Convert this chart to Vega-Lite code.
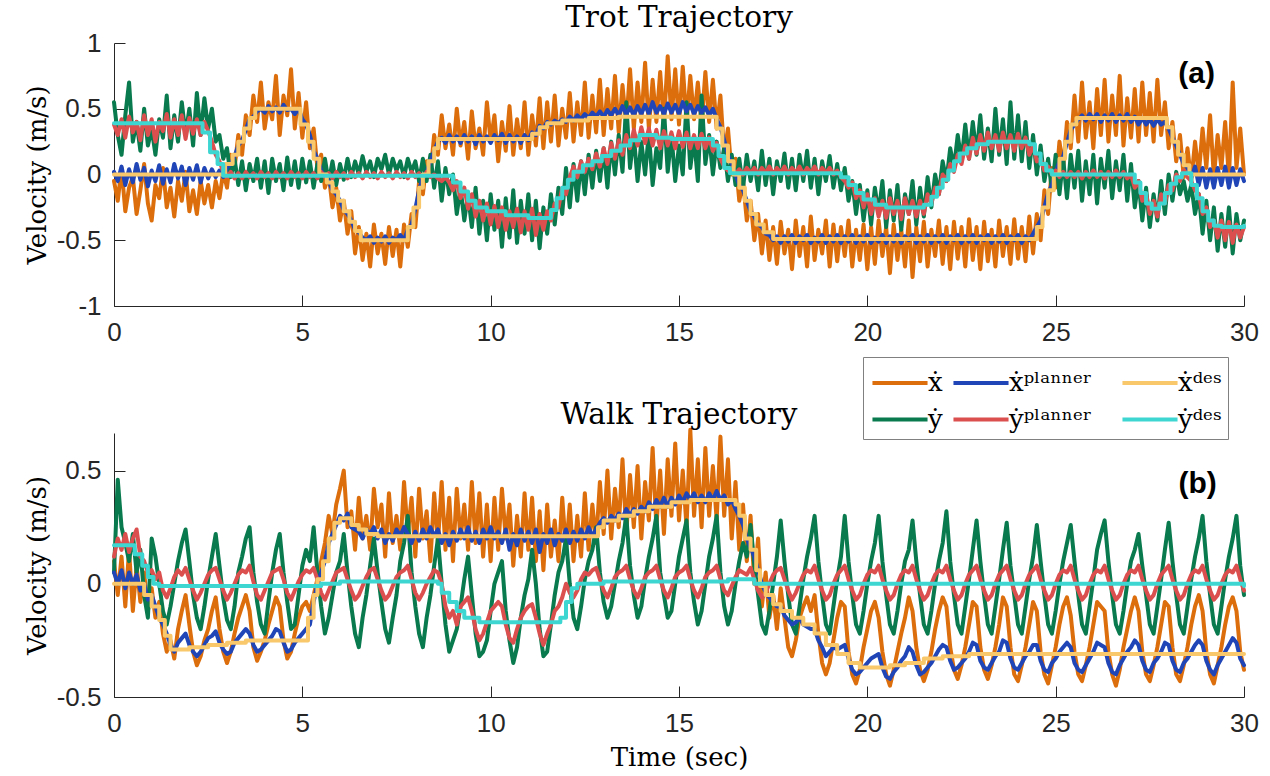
{
"$schema":"https://vega.github.io/schema/vega-lite/v6.json",
"background":"white",
"padding":{"left":24,"top":2,"right":5,"bottom":5},
"bounds":"flush",
"spacing":127,
"config":{
"font":"DejaVu Serif",
"view":{"stroke":null},
"style":{"guide-title":{"font":"DejaVu Serif","fontSize":26,"fontWeight":"normal"},"guide-label":{"font":"Liberation Sans","fontSize":26}},
"axis":{"grid":false,"domainColor":"#262626","tickColor":"#262626","tickWidth":1,"labelColor":"#262626","labelFlush":false,"labelOverlap":false,"titleFont":"DejaVu Serif","labelFont":"Liberation Sans"},
"line":{"strokeWidth":4,"strokeJoin":"round","strokeCap":"round"},
"legend":{"orient":"none","legendX":749,"legendY":314,"columns":3,"symbolType":"M-1.53,0H1.53","symbolSize":1296,"symbolStrokeWidth":4,"symbolOffset":11,"labelOffset":8,"labelFont":"DejaVu Serif","labelFontSize":26,"labelColor":"#000000","strokeColor":"#808080","fillColor":"#ffffff","padding":6,"rowPadding":3.6,"columnPadding":7}
},
"datasets":{
"trot":[
{"t":0,"x":-0.05,"y":0.55,"xp":0.02,"yp":0.38},
{"t":0.1,"x":-0.2,"y":0.3,"xp":-0.05,"yp":0.3},
{"t":0.2,"x":0.05,"y":0.15,"xp":0.06,"yp":0.42},
{"t":0.3,"x":-0.28,"y":0.45,"xp":-0.08,"yp":0.28},
{"t":0.4,"x":-0.1,"y":0.7,"xp":0.04,"yp":0.44},
{"t":0.5,"x":-0.02,"y":0.25,"xp":-0.06,"yp":0.32},
{"t":0.6,"x":-0.3,"y":0.4,"xp":0.08,"yp":0.4},
{"t":0.7,"x":-0.12,"y":0.18,"xp":-0.04,"yp":0.26},
{"t":0.8,"x":0.08,"y":0.5,"xp":0.05,"yp":0.45},
{"t":0.9,"x":-0.22,"y":0.22,"xp":-0.09,"yp":0.3},
{"t":1,"x":-0.35,"y":0.35,"xp":0.03,"yp":0.42},
{"t":1.1,"x":-0.08,"y":0.15,"xp":-0.05,"yp":0.25},
{"t":1.2,"x":-0.18,"y":0.42,"xp":0.07,"yp":0.4},
{"t":1.3,"x":0.05,"y":0.28,"xp":-0.07,"yp":0.33},
{"t":1.4,"x":-0.25,"y":0.6,"xp":0.04,"yp":0.46},
{"t":1.5,"x":-0.1,"y":0.2,"xp":-0.06,"yp":0.28},
{"t":1.6,"x":-0.32,"y":0.45,"xp":0.08,"yp":0.42},
{"t":1.7,"x":-0.05,"y":0.25,"xp":-0.03,"yp":0.3},
{"t":1.8,"x":-0.2,"y":0.55,"xp":0.06,"yp":0.45},
{"t":1.9,"x":0.02,"y":0.3,"xp":-0.08,"yp":0.27},
{"t":2,"x":-0.28,"y":0.5,"xp":0.05,"yp":0.43},
{"t":2.1,"x":-0.12,"y":0.22,"xp":-0.04,"yp":0.31},
{"t":2.2,"x":-0.3,"y":0.62,"xp":0.07,"yp":0.42},
{"t":2.3,"x":-0.05,"y":0.3,"xp":-0.06,"yp":0.3},
{"t":2.4,"x":-0.22,"y":0.58,"xp":0.05,"yp":0.4},
{"t":2.5,"x":-0.08,"y":0.35,"xp":-0.03,"yp":0.33},
{"t":2.6,"x":-0.25,"y":0.5,"xp":0.04,"yp":0.25},
{"t":2.7,"x":-0.05,"y":0.25,"xp":-0.02,"yp":0.15},
{"t":2.8,"x":-0.18,"y":0.3,"xp":0.03,"yp":0.1},
{"t":2.9,"x":0.02,"y":0.12,"xp":-0.02,"yp":0.02},
{"t":3,"x":-0.1,"y":0.2,"xp":0.05,"yp":-0.02},
{"t":3.1,"x":0.15,"y":-0.02,"xp":0.08,"yp":0.02},
{"t":3.2,"x":0.05,"y":0.12,"xp":0.14,"yp":-0.03},
{"t":3.3,"x":0.3,"y":-0.08,"xp":0.22,"yp":0.01},
{"t":3.4,"x":0.15,"y":0.1,"xp":0.26,"yp":-0.03},
{"t":3.5,"x":0.45,"y":-0.12,"xp":0.34,"yp":0.02},
{"t":3.6,"x":0.3,"y":0.08,"xp":0.42,"yp":-0.02},
{"t":3.7,"x":0.6,"y":-0.05,"xp":0.44,"yp":0.01},
{"t":3.8,"x":0.4,"y":0.12,"xp":0.48,"yp":-0.03},
{"t":3.9,"x":0.7,"y":-0.1,"xp":0.5,"yp":0.02},
{"t":4,"x":0.35,"y":0.1,"xp":0.47,"yp":-0.02},
{"t":4.1,"x":0.55,"y":-0.14,"xp":0.52,"yp":0.01},
{"t":4.2,"x":0.42,"y":0.12,"xp":0.48,"yp":-0.03},
{"t":4.3,"x":0.75,"y":-0.05,"xp":0.51,"yp":0.02},
{"t":4.4,"x":0.3,"y":0.08,"xp":0.47,"yp":-0.02},
{"t":4.5,"x":0.6,"y":-0.12,"xp":0.53,"yp":0.01},
{"t":4.6,"x":0.45,"y":0.13,"xp":0.49,"yp":-0.03},
{"t":4.7,"x":0.8,"y":-0.08,"xp":0.5,"yp":0.02},
{"t":4.8,"x":0.35,"y":0.1,"xp":0.46,"yp":-0.02},
{"t":4.9,"x":0.62,"y":-0.1,"xp":0.5,"yp":0.01},
{"t":5,"x":0.28,"y":0.12,"xp":0.42,"yp":-0.03},
{"t":5.1,"x":0.55,"y":-0.06,"xp":0.38,"yp":0.02},
{"t":5.2,"x":0.2,"y":0.1,"xp":0.3,"yp":-0.02},
{"t":5.3,"x":0.35,"y":-0.1,"xp":0.18,"yp":0.01},
{"t":5.4,"x":0.05,"y":0.08,"xp":0.12,"yp":-0.03},
{"t":5.5,"x":0.15,"y":-0.05,"xp":0.03,"yp":0.02},
{"t":5.6,"x":-0.1,"y":0.12,"xp":-0.01,"yp":-0.02},
{"t":5.7,"x":0,"y":-0.06,"xp":-0.05,"yp":0.01},
{"t":5.8,"x":-0.25,"y":0.1,"xp":-0.12,"yp":-0.03},
{"t":5.9,"x":-0.1,"y":-0.08,"xp":-0.15,"yp":0.02},
{"t":6,"x":-0.35,"y":0.08,"xp":-0.2,"yp":-0.02},
{"t":6.1,"x":-0.2,"y":-0.04,"xp":-0.27,"yp":0.01},
{"t":6.2,"x":-0.45,"y":0.12,"xp":-0.3,"yp":-0.03},
{"t":6.3,"x":-0.28,"y":-0.02,"xp":-0.35,"yp":0.02},
{"t":6.4,"x":-0.6,"y":0.1,"xp":-0.42,"yp":-0.02},
{"t":6.5,"x":-0.4,"y":0,"xp":-0.44,"yp":0.01},
{"t":6.6,"x":-0.65,"y":0.14,"xp":-0.48,"yp":-0.03},
{"t":6.7,"x":-0.45,"y":0.02,"xp":-0.5,"yp":0.02},
{"t":6.8,"x":-0.7,"y":0.1,"xp":-0.47,"yp":-0.02},
{"t":6.9,"x":-0.38,"y":-0.02,"xp":-0.52,"yp":0.01},
{"t":7,"x":-0.6,"y":0.12,"xp":-0.48,"yp":-0.03},
{"t":7.1,"x":-0.45,"y":0.04,"xp":-0.51,"yp":0.02},
{"t":7.2,"x":-0.68,"y":0.15,"xp":-0.47,"yp":-0.02},
{"t":7.3,"x":-0.4,"y":0,"xp":-0.52,"yp":0.01},
{"t":7.4,"x":-0.62,"y":0.12,"xp":-0.48,"yp":-0.03},
{"t":7.5,"x":-0.42,"y":0.03,"xp":-0.5,"yp":0.02},
{"t":7.6,"x":-0.7,"y":0.1,"xp":-0.46,"yp":-0.02},
{"t":7.7,"x":-0.38,"y":-0.02,"xp":-0.5,"yp":0.01},
{"t":7.8,"x":-0.55,"y":0.12,"xp":-0.42,"yp":-0.03},
{"t":7.9,"x":-0.3,"y":0.02,"xp":-0.38,"yp":0.02},
{"t":8,"x":-0.4,"y":0.1,"xp":-0.26,"yp":-0.02},
{"t":8.1,"x":-0.05,"y":-0.05,"xp":-0.12,"yp":0.01},
{"t":8.2,"x":-0.15,"y":0.12,"xp":-0.02,"yp":-0.03},
{"t":8.3,"x":0.1,"y":-0.05,"xp":0.02,"yp":0.02},
{"t":8.4,"x":0,"y":0.15,"xp":0.1,"yp":-0.02},
{"t":8.5,"x":0.3,"y":-0.1,"xp":0.18,"yp":0},
{"t":8.6,"x":0.15,"y":0.1,"xp":0.25,"yp":-0.03},
{"t":8.7,"x":0.45,"y":-0.2,"xp":0.28,"yp":-0.05},
{"t":8.8,"x":0.2,"y":0.05,"xp":0.24,"yp":-0.02},
{"t":8.9,"x":0.38,"y":-0.15,"xp":0.3,"yp":-0.06},
{"t":9,"x":0.15,"y":0,"xp":0.25,"yp":-0.12},
{"t":9.1,"x":0.5,"y":-0.3,"xp":0.29,"yp":-0.05},
{"t":9.2,"x":0.22,"y":-0.1,"xp":0.24,"yp":-0.18},
{"t":9.3,"x":0.4,"y":-0.35,"xp":0.3,"yp":-0.1},
{"t":9.4,"x":0.12,"y":-0.15,"xp":0.25,"yp":-0.26},
{"t":9.5,"x":0.48,"y":-0.4,"xp":0.29,"yp":-0.15},
{"t":9.6,"x":0.2,"y":-0.1,"xp":0.23,"yp":-0.32},
{"t":9.7,"x":0.35,"y":-0.45,"xp":0.3,"yp":-0.2},
{"t":9.8,"x":0.15,"y":-0.2,"xp":0.25,"yp":-0.35},
{"t":9.9,"x":0.55,"y":-0.5,"xp":0.29,"yp":-0.22},
{"t":10,"x":0.25,"y":-0.15,"xp":0.24,"yp":-0.38},
{"t":10.1,"x":0.45,"y":-0.42,"xp":0.3,"yp":-0.24},
{"t":10.2,"x":0.1,"y":-0.2,"xp":0.26,"yp":-0.4},
{"t":10.3,"x":0.4,"y":-0.55,"xp":0.31,"yp":-0.25},
{"t":10.4,"x":0.18,"y":-0.18,"xp":0.24,"yp":-0.42},
{"t":10.5,"x":0.52,"y":-0.48,"xp":0.3,"yp":-0.28},
{"t":10.6,"x":0.15,"y":-0.12,"xp":0.25,"yp":-0.4},
{"t":10.7,"x":0.42,"y":-0.52,"xp":0.29,"yp":-0.26},
{"t":10.8,"x":0.2,"y":-0.2,"xp":0.24,"yp":-0.44},
{"t":10.9,"x":0.55,"y":-0.45,"xp":0.3,"yp":-0.28},
{"t":11,"x":0.15,"y":-0.15,"xp":0.26,"yp":-0.42},
{"t":11.1,"x":0.45,"y":-0.5,"xp":0.32,"yp":-0.26},
{"t":11.2,"x":0.22,"y":-0.2,"xp":0.3,"yp":-0.46},
{"t":11.3,"x":0.58,"y":-0.56,"xp":0.37,"yp":-0.3},
{"t":11.4,"x":0.2,"y":-0.25,"xp":0.35,"yp":-0.42},
{"t":11.5,"x":0.55,"y":-0.45,"xp":0.4,"yp":-0.28},
{"t":11.6,"x":0.25,"y":-0.15,"xp":0.38,"yp":-0.35},
{"t":11.7,"x":0.6,"y":-0.38,"xp":0.41,"yp":-0.22},
{"t":11.8,"x":0.22,"y":-0.1,"xp":0.39,"yp":-0.25},
{"t":11.9,"x":0.5,"y":-0.3,"xp":0.42,"yp":-0.1},
{"t":12,"x":0.28,"y":0.05,"xp":0.4,"yp":-0.15},
{"t":12.1,"x":0.62,"y":-0.25,"xp":0.44,"yp":-0.02},
{"t":12.2,"x":0.25,"y":0.08,"xp":0.41,"yp":0.06},
{"t":12.3,"x":0.55,"y":-0.2,"xp":0.45,"yp":-0.02},
{"t":12.4,"x":0.3,"y":0.1,"xp":0.42,"yp":0.1},
{"t":12.5,"x":0.7,"y":-0.15,"xp":0.46,"yp":0.02},
{"t":12.6,"x":0.28,"y":0.15,"xp":0.43,"yp":0.12},
{"t":12.7,"x":0.6,"y":-0.1,"xp":0.47,"yp":0.04},
{"t":12.8,"x":0.32,"y":0.18,"xp":0.44,"yp":0.16},
{"t":12.9,"x":0.72,"y":-0.05,"xp":0.48,"yp":0.06},
{"t":13,"x":0.3,"y":0.2,"xp":0.44,"yp":0.2},
{"t":13.1,"x":0.65,"y":-0.1,"xp":0.49,"yp":0.08},
{"t":13.2,"x":0.35,"y":0.25,"xp":0.45,"yp":0.24},
{"t":13.3,"x":0.75,"y":0,"xp":0.5,"yp":0.12},
{"t":13.4,"x":0.32,"y":0.3,"xp":0.45,"yp":0.26},
{"t":13.5,"x":0.68,"y":0.02,"xp":0.52,"yp":0.15},
{"t":13.6,"x":0.38,"y":0.55,"xp":0.46,"yp":0.3},
{"t":13.7,"x":0.8,"y":0.05,"xp":0.51,"yp":0.2},
{"t":13.8,"x":0.35,"y":0.3,"xp":0.45,"yp":0.34},
{"t":13.9,"x":0.7,"y":-0.05,"xp":0.52,"yp":0.22},
{"t":14,"x":0.4,"y":0.25,"xp":0.46,"yp":0.36},
{"t":14.1,"x":0.85,"y":0,"xp":0.53,"yp":0.24},
{"t":14.2,"x":0.35,"y":0.32,"xp":0.46,"yp":0.35},
{"t":14.3,"x":0.72,"y":-0.08,"xp":0.55,"yp":0.22},
{"t":14.4,"x":0.4,"y":0.2,"xp":0.47,"yp":0.34},
{"t":14.5,"x":0.78,"y":0.05,"xp":0.52,"yp":0.2},
{"t":14.6,"x":0.38,"y":0.5,"xp":0.46,"yp":0.33},
{"t":14.7,"x":0.9,"y":0.02,"xp":0.54,"yp":0.22},
{"t":14.8,"x":0.42,"y":0.3,"xp":0.47,"yp":0.32},
{"t":14.9,"x":0.8,"y":-0.05,"xp":0.53,"yp":0.2},
{"t":15,"x":0.38,"y":0.22,"xp":0.46,"yp":0.33},
{"t":15.1,"x":0.82,"y":0,"xp":0.55,"yp":0.21},
{"t":15.2,"x":0.4,"y":0.55,"xp":0.48,"yp":0.32},
{"t":15.3,"x":0.75,"y":0.05,"xp":0.53,"yp":0.2},
{"t":15.4,"x":0.42,"y":0.28,"xp":0.46,"yp":0.3},
{"t":15.5,"x":0.7,"y":-0.05,"xp":0.52,"yp":0.2},
{"t":15.6,"x":0.38,"y":0.6,"xp":0.47,"yp":0.31},
{"t":15.7,"x":0.78,"y":0.08,"xp":0.51,"yp":0.2},
{"t":15.8,"x":0.4,"y":0.3,"xp":0.45,"yp":0.28},
{"t":15.9,"x":0.72,"y":0,"xp":0.5,"yp":0.18},
{"t":16,"x":0.35,"y":0.25,"xp":0.42,"yp":0.24},
{"t":16.1,"x":0.6,"y":0.05,"xp":0.36,"yp":0.12},
{"t":16.2,"x":0.15,"y":0.2,"xp":0.26,"yp":0.06},
{"t":16.3,"x":0.35,"y":-0.05,"xp":0.15,"yp":0.03},
{"t":16.4,"x":0,"y":0.15,"xp":0.08,"yp":0.05},
{"t":16.5,"x":0.12,"y":-0.08,"xp":0,"yp":0},
{"t":16.6,"x":-0.2,"y":0.12,"xp":-0.08,"yp":0.04},
{"t":16.7,"x":-0.05,"y":-0.1,"xp":-0.12,"yp":0},
{"t":16.8,"x":-0.35,"y":0.15,"xp":-0.2,"yp":0.05},
{"t":16.9,"x":-0.2,"y":-0.05,"xp":-0.28,"yp":0.01},
{"t":17,"x":-0.5,"y":0.1,"xp":-0.32,"yp":0.05},
{"t":17.1,"x":-0.3,"y":-0.12,"xp":-0.38,"yp":0},
{"t":17.2,"x":-0.6,"y":0.18,"xp":-0.4,"yp":0.05},
{"t":17.3,"x":-0.35,"y":-0.08,"xp":-0.45,"yp":0.01},
{"t":17.4,"x":-0.65,"y":0.12,"xp":-0.46,"yp":0.06},
{"t":17.5,"x":-0.4,"y":-0.15,"xp":-0.5,"yp":0},
{"t":17.6,"x":-0.68,"y":0.1,"xp":-0.47,"yp":0.05},
{"t":17.7,"x":-0.36,"y":-0.05,"xp":-0.52,"yp":0.01},
{"t":17.8,"x":-0.6,"y":0.16,"xp":-0.47,"yp":0.06},
{"t":17.9,"x":-0.42,"y":-0.1,"xp":-0.51,"yp":0},
{"t":18,"x":-0.72,"y":0.12,"xp":-0.46,"yp":0.05},
{"t":18.1,"x":-0.35,"y":-0.12,"xp":-0.52,"yp":0.01},
{"t":18.2,"x":-0.62,"y":0.15,"xp":-0.47,"yp":0.06},
{"t":18.3,"x":-0.4,"y":-0.05,"xp":-0.5,"yp":0},
{"t":18.4,"x":-0.7,"y":0.18,"xp":-0.46,"yp":0.05},
{"t":18.5,"x":-0.32,"y":-0.1,"xp":-0.52,"yp":0.01},
{"t":18.6,"x":-0.65,"y":0.12,"xp":-0.48,"yp":0.06},
{"t":18.7,"x":-0.42,"y":-0.15,"xp":-0.51,"yp":0},
{"t":18.8,"x":-0.6,"y":0.1,"xp":-0.46,"yp":0.05},
{"t":18.9,"x":-0.35,"y":-0.05,"xp":-0.52,"yp":0.01},
{"t":19,"x":-0.7,"y":0.14,"xp":-0.47,"yp":0.05},
{"t":19.1,"x":-0.38,"y":-0.1,"xp":-0.51,"yp":0},
{"t":19.2,"x":-0.66,"y":0.08,"xp":-0.46,"yp":0.03},
{"t":19.3,"x":-0.4,"y":-0.12,"xp":-0.52,"yp":-0.02},
{"t":19.4,"x":-0.62,"y":0.05,"xp":-0.47,"yp":-0.05},
{"t":19.5,"x":-0.35,"y":-0.2,"xp":-0.51,"yp":-0.1},
{"t":19.6,"x":-0.7,"y":-0.05,"xp":-0.46,"yp":-0.06},
{"t":19.7,"x":-0.42,"y":-0.3,"xp":-0.52,"yp":-0.18},
{"t":19.8,"x":-0.65,"y":-0.08,"xp":-0.47,"yp":-0.12},
{"t":19.9,"x":-0.38,"y":-0.35,"xp":-0.51,"yp":-0.25},
{"t":20,"x":-0.72,"y":-0.12,"xp":-0.46,"yp":-0.15},
{"t":20.1,"x":-0.4,"y":-0.38,"xp":-0.52,"yp":-0.3},
{"t":20.2,"x":-0.68,"y":-0.1,"xp":-0.48,"yp":-0.18},
{"t":20.3,"x":-0.35,"y":-0.3,"xp":-0.51,"yp":-0.32},
{"t":20.4,"x":-0.62,"y":-0.05,"xp":-0.46,"yp":-0.2},
{"t":20.5,"x":-0.4,"y":-0.4,"xp":-0.52,"yp":-0.33},
{"t":20.6,"x":-0.75,"y":-0.12,"xp":-0.47,"yp":-0.18},
{"t":20.7,"x":-0.38,"y":-0.35,"xp":-0.51,"yp":-0.3},
{"t":20.8,"x":-0.65,"y":-0.08,"xp":-0.46,"yp":-0.2},
{"t":20.9,"x":-0.42,"y":-0.42,"xp":-0.52,"yp":-0.34},
{"t":21,"x":-0.7,"y":-0.15,"xp":-0.47,"yp":-0.18},
{"t":21.1,"x":-0.35,"y":-0.3,"xp":-0.5,"yp":-0.3},
{"t":21.2,"x":-0.78,"y":-0.05,"xp":-0.46,"yp":-0.2},
{"t":21.3,"x":-0.4,"y":-0.38,"xp":-0.52,"yp":-0.32},
{"t":21.4,"x":-0.66,"y":-0.1,"xp":-0.47,"yp":-0.2},
{"t":21.5,"x":-0.36,"y":-0.32,"xp":-0.51,"yp":-0.3},
{"t":21.6,"x":-0.7,"y":-0.02,"xp":-0.46,"yp":-0.15},
{"t":21.7,"x":-0.42,"y":-0.25,"xp":-0.52,"yp":-0.22},
{"t":21.8,"x":-0.62,"y":0,"xp":-0.47,"yp":-0.1},
{"t":21.9,"x":-0.35,"y":-0.15,"xp":-0.51,"yp":-0.15},
{"t":22,"x":-0.68,"y":0.1,"xp":-0.46,"yp":0},
{"t":22.1,"x":-0.4,"y":-0.05,"xp":-0.52,"yp":-0.05},
{"t":22.2,"x":-0.72,"y":0.2,"xp":-0.47,"yp":0.08},
{"t":22.3,"x":-0.36,"y":0.05,"xp":-0.5,"yp":0.02},
{"t":22.4,"x":-0.64,"y":0.3,"xp":-0.46,"yp":0.15},
{"t":22.5,"x":-0.4,"y":0.1,"xp":-0.52,"yp":0.08},
{"t":22.6,"x":-0.7,"y":0.38,"xp":-0.47,"yp":0.22},
{"t":22.7,"x":-0.34,"y":0.12,"xp":-0.51,"yp":0.12},
{"t":22.8,"x":-0.65,"y":0.4,"xp":-0.46,"yp":0.28},
{"t":22.9,"x":-0.4,"y":0.15,"xp":-0.52,"yp":0.16},
{"t":23,"x":-0.72,"y":0.45,"xp":-0.47,"yp":0.3},
{"t":23.1,"x":-0.36,"y":0.12,"xp":-0.5,"yp":0.18},
{"t":23.2,"x":-0.66,"y":0.35,"xp":-0.46,"yp":0.32},
{"t":23.3,"x":-0.42,"y":0.1,"xp":-0.52,"yp":0.2},
{"t":23.4,"x":-0.7,"y":0.5,"xp":-0.47,"yp":0.3},
{"t":23.5,"x":-0.35,"y":0.15,"xp":-0.51,"yp":0.18},
{"t":23.6,"x":-0.62,"y":0.42,"xp":-0.46,"yp":0.32},
{"t":23.7,"x":-0.4,"y":0.08,"xp":-0.52,"yp":0.2},
{"t":23.8,"x":-0.68,"y":0.55,"xp":-0.47,"yp":0.3},
{"t":23.9,"x":-0.34,"y":0.12,"xp":-0.5,"yp":0.18},
{"t":24,"x":-0.64,"y":0.45,"xp":-0.46,"yp":0.31},
{"t":24.1,"x":-0.4,"y":0.1,"xp":-0.52,"yp":0.2},
{"t":24.2,"x":-0.66,"y":0.4,"xp":-0.47,"yp":0.28},
{"t":24.3,"x":-0.32,"y":0.05,"xp":-0.5,"yp":0.15},
{"t":24.4,"x":-0.6,"y":0.3,"xp":-0.45,"yp":0.22},
{"t":24.5,"x":-0.3,"y":0,"xp":-0.4,"yp":0.1},
{"t":24.6,"x":-0.5,"y":0.22,"xp":-0.35,"yp":0.12},
{"t":24.7,"x":-0.12,"y":-0.05,"xp":-0.25,"yp":0.03},
{"t":24.8,"x":-0.3,"y":0.12,"xp":-0.14,"yp":0.06},
{"t":24.9,"x":0.05,"y":-0.12,"xp":-0.08,"yp":0},
{"t":25,"x":-0.1,"y":0.15,"xp":0.02,"yp":0.03},
{"t":25.1,"x":0.25,"y":-0.15,"xp":0.1,"yp":-0.02},
{"t":25.2,"x":0.05,"y":0.12,"xp":0.14,"yp":0.02},
{"t":25.3,"x":0.4,"y":-0.18,"xp":0.24,"yp":-0.02},
{"t":25.4,"x":0.2,"y":0.15,"xp":0.34,"yp":0.02},
{"t":25.5,"x":0.6,"y":-0.1,"xp":0.38,"yp":-0.02},
{"t":25.6,"x":0.25,"y":0.18,"xp":0.42,"yp":0.02},
{"t":25.7,"x":0.7,"y":-0.2,"xp":0.45,"yp":-0.03},
{"t":25.8,"x":0.28,"y":0.1,"xp":0.41,"yp":0.02},
{"t":25.9,"x":0.55,"y":-0.15,"xp":0.46,"yp":-0.02},
{"t":26,"x":0.2,"y":0.15,"xp":0.42,"yp":0.03},
{"t":26.1,"x":0.65,"y":-0.22,"xp":0.46,"yp":-0.02},
{"t":26.2,"x":0.3,"y":0.12,"xp":0.4,"yp":0.02},
{"t":26.3,"x":0.72,"y":-0.1,"xp":0.45,"yp":-0.03},
{"t":26.4,"x":0.25,"y":0.18,"xp":0.41,"yp":0.02},
{"t":26.5,"x":0.6,"y":-0.18,"xp":0.46,"yp":-0.02},
{"t":26.6,"x":0.3,"y":0.1,"xp":0.4,"yp":0.03},
{"t":26.7,"x":0.75,"y":-0.12,"xp":0.45,"yp":-0.02},
{"t":26.8,"x":0.22,"y":0.15,"xp":0.41,"yp":0.02},
{"t":26.9,"x":0.58,"y":-0.2,"xp":0.46,"yp":-0.03},
{"t":27,"x":0.28,"y":0.08,"xp":0.4,"yp":0},
{"t":27.1,"x":0.65,"y":-0.25,"xp":0.44,"yp":-0.1},
{"t":27.2,"x":0.25,"y":-0.05,"xp":0.38,"yp":-0.05},
{"t":27.3,"x":0.7,"y":-0.35,"xp":0.43,"yp":-0.2},
{"t":27.4,"x":0.3,"y":-0.1,"xp":0.38,"yp":-0.15},
{"t":27.5,"x":0.62,"y":-0.4,"xp":0.42,"yp":-0.3},
{"t":27.6,"x":0.25,"y":-0.15,"xp":0.37,"yp":-0.2},
{"t":27.7,"x":0.72,"y":-0.35,"xp":0.42,"yp":-0.32},
{"t":27.8,"x":0.3,"y":-0.05,"xp":0.38,"yp":-0.15},
{"t":27.9,"x":0.55,"y":-0.3,"xp":0.4,"yp":-0.22},
{"t":28,"x":0.2,"y":0,"xp":0.35,"yp":-0.08},
{"t":28.1,"x":0.4,"y":-0.2,"xp":0.28,"yp":-0.12},
{"t":28.2,"x":0.1,"y":0.02,"xp":0.22,"yp":0},
{"t":28.3,"x":0.3,"y":-0.15,"xp":0.15,"yp":-0.05},
{"t":28.4,"x":-0.02,"y":-0.05,"xp":0.08,"yp":0.03},
{"t":28.5,"x":0.2,"y":-0.2,"xp":0.05,"yp":-0.02},
{"t":28.6,"x":-0.05,"y":-0.08,"xp":-0.02,"yp":-0.05},
{"t":28.7,"x":0.25,"y":-0.3,"xp":0.06,"yp":-0.12},
{"t":28.8,"x":0,"y":-0.15,"xp":-0.08,"yp":-0.15},
{"t":28.9,"x":0.35,"y":-0.45,"xp":0.05,"yp":-0.3},
{"t":29,"x":0.05,"y":-0.2,"xp":-0.1,"yp":-0.25},
{"t":29.1,"x":0.45,"y":-0.5,"xp":0.04,"yp":-0.4},
{"t":29.2,"x":-0.02,"y":-0.25,"xp":-0.1,"yp":-0.35},
{"t":29.3,"x":0.3,"y":-0.58,"xp":0.05,"yp":-0.48},
{"t":29.4,"x":0.05,"y":-0.3,"xp":-0.08,"yp":-0.35},
{"t":29.5,"x":0.4,"y":-0.55,"xp":0.06,"yp":-0.5},
{"t":29.6,"x":-0.03,"y":-0.25,"xp":-0.1,"yp":-0.36},
{"t":29.7,"x":0.7,"y":-0.6,"xp":0.05,"yp":-0.52},
{"t":29.8,"x":0.05,"y":-0.3,"xp":-0.08,"yp":-0.38},
{"t":29.9,"x":0.35,"y":-0.5,"xp":0.04,"yp":-0.48},
{"t":30,"x":0,"y":-0.35,"xp":-0.05,"yp":-0.4}
],
"trotXD":[
{"t":0,"v":0},{"t":2.95,"v":0.08},{"t":3.15,"v":0.15},{"t":3.3,"v":0.25},{"t":3.45,"v":0.35},{"t":3.6,"v":0.43},{"t":3.75,"v":0.5},{"t":4.95,"v":0.38},{"t":5.15,"v":0.25},{"t":5.3,"v":0.12},{"t":5.45,"v":0},{"t":5.65,"v":-0.06},{"t":5.8,"v":-0.13},{"t":5.95,"v":-0.2},{"t":6.1,"v":-0.28},{"t":6.25,"v":-0.36},{"t":6.4,"v":-0.43},{"t":6.55,"v":-0.5},{"t":7.8,"v":-0.4},{"t":7.95,"v":-0.25},{"t":8.1,"v":-0.1},{"t":8.2,"v":0},{"t":8.35,"v":0.1},{"t":8.5,"v":0.2},{"t":8.6,"v":0.27},{"t":11.1,"v":0.31},{"t":11.3,"v":0.36},{"t":11.5,"v":0.39},{"t":11.9,"v":0.41},{"t":12.6,"v":0.43},{"t":13.4,"v":0.44},{"t":16,"v":0.35},{"t":16.15,"v":0.22},{"t":16.3,"v":0.1},{"t":16.45,"v":0},{"t":16.6,"v":-0.1},{"t":16.75,"v":-0.2},{"t":16.9,"v":-0.3},{"t":17.05,"v":-0.38},{"t":17.25,"v":-0.44},{"t":17.5,"v":-0.49},{"t":24.5,"v":-0.4},{"t":24.65,"v":-0.25},{"t":24.8,"v":-0.12},{"t":24.95,"v":0},{"t":25.1,"v":0.12},{"t":25.25,"v":0.25},{"t":25.4,"v":0.38},{"t":25.55,"v":0.43},{"t":27.95,"v":0.36},{"t":28.1,"v":0.25},{"t":28.25,"v":0.15},{"t":28.4,"v":0.07},{"t":28.55,"v":0},{"t":30,"v":0}
],
"trotYD":[
{"t":0,"v":0.39},{"t":2.35,"v":0.32},{"t":2.55,"v":0.17},{"t":2.75,"v":0.08},{"t":2.9,"v":-0.01},{"t":9,"v":-0.06},{"t":9.2,"v":-0.13},{"t":9.4,"v":-0.2},{"t":9.6,"v":-0.25},{"t":9.9,"v":-0.28},{"t":10.4,"v":-0.31},{"t":11,"v":-0.33},{"t":11.6,"v":-0.27},{"t":11.75,"v":-0.18},{"t":11.9,"v":-0.1},{"t":12.05,"v":-0.04},{"t":12.2,"v":0.02},{"t":12.45,"v":0.07},{"t":12.7,"v":0.1},{"t":12.95,"v":0.14},{"t":13.2,"v":0.18},{"t":13.45,"v":0.22},{"t":13.7,"v":0.26},{"t":13.95,"v":0.3},{"t":14.4,"v":0.28},{"t":14.8,"v":0.27},{"t":15.9,"v":0.22},{"t":16.05,"v":0.14},{"t":16.2,"v":0.05},{"t":16.35,"v":0.01},{"t":19.3,"v":-0.02},{"t":19.5,"v":-0.08},{"t":19.7,"v":-0.14},{"t":19.9,"v":-0.19},{"t":20.2,"v":-0.23},{"t":20.5,"v":-0.25},{"t":21.5,"v":-0.23},{"t":21.7,"v":-0.17},{"t":21.85,"v":-0.1},{"t":22,"v":-0.04},{"t":22.15,"v":0.03},{"t":22.3,"v":0.1},{"t":22.45,"v":0.16},{"t":22.65,"v":0.2},{"t":22.9,"v":0.23},{"t":23.2,"v":0.25},{"t":24.3,"v":0.23},{"t":24.45,"v":0.16},{"t":24.6,"v":0.08},{"t":24.75,"v":0.03},{"t":24.9,"v":0},{"t":27.1,"v":-0.06},{"t":27.25,"v":-0.14},{"t":27.4,"v":-0.22},{"t":27.55,"v":-0.26},{"t":27.75,"v":-0.22},{"t":27.9,"v":-0.14},{"t":28.05,"v":-0.07},{"t":28.2,"v":-0.02},{"t":28.35,"v":0.01},{"t":28.6,"v":-0.08},{"t":28.75,"v":-0.18},{"t":28.9,"v":-0.28},{"t":29.05,"v":-0.35},{"t":29.2,"v":-0.39},{"t":29.4,"v":-0.4},{"t":30,"v":-0.39}
],
"walk":[
{"t":0,"x":0.1,"y":0.05,"xp":0.05,"yp":0.12},
{"t":0.1,"x":-0.05,"y":0.46,"xp":0,"yp":0.2},
{"t":0.2,"x":0.12,"y":0.25,"xp":0.06,"yp":0.15},
{"t":0.3,"x":-0.1,"y":0.18,"xp":-0.02,"yp":0.22},
{"t":0.4,"x":0.15,"y":0.1,"xp":0.05,"yp":0.14},
{"t":0.5,"x":-0.12,"y":0.22,"xp":0,"yp":0.2},
{"t":0.6,"x":0.08,"y":0.05,"xp":0.04,"yp":0.24},
{"t":0.7,"x":-0.08,"y":0.15,"xp":-0.03,"yp":0.12},
{"t":0.8,"x":0.05,"y":-0.05,"xp":0,"yp":0.1},
{"t":0.9,"x":-0.12,"y":-0.15,"xp":-0.07,"yp":0.05},
{"t":1,"x":-0.02,"y":0.2,"xp":-0.05,"yp":0.06},
{"t":1.1,"x":-0.15,"y":0.12,"xp":-0.1,"yp":0.02},
{"t":1.2,"x":-0.08,"y":0,"xp":-0.15,"yp":0.05},
{"t":1.3,"x":-0.22,"y":-0.12,"xp":-0.18,"yp":-0.03},
{"t":1.4,"x":-0.3,"y":-0.18,"xp":-0.22,"yp":-0.06},
{"t":1.5,"x":-0.25,"y":-0.1,"xp":-0.27,"yp":-0.02},
{"t":1.6,"x":-0.33,"y":0,"xp":-0.3,"yp":0.03},
{"t":1.7,"x":-0.2,"y":0.1,"xp":-0.26,"yp":0.06},
{"t":1.8,"x":-0.12,"y":0.18,"xp":-0.24,"yp":0.04},
{"t":1.9,"x":-0.05,"y":0.24,"xp":-0.22,"yp":0.07},
{"t":2,"x":-0.18,"y":0.1,"xp":-0.27,"yp":0.02},
{"t":2.1,"x":-0.3,"y":-0.05,"xp":-0.3,"yp":-0.03},
{"t":2.2,"x":-0.36,"y":-0.15,"xp":-0.32,"yp":-0.07},
{"t":2.3,"x":-0.32,"y":-0.2,"xp":-0.3,"yp":-0.04},
{"t":2.4,"x":-0.25,"y":-0.1,"xp":-0.27,"yp":0},
{"t":2.5,"x":-0.2,"y":0.02,"xp":-0.24,"yp":0.04},
{"t":2.6,"x":-0.12,"y":0.12,"xp":-0.23,"yp":0.06},
{"t":2.7,"x":-0.06,"y":0.22,"xp":-0.21,"yp":0.07},
{"t":2.8,"x":-0.2,"y":0.08,"xp":-0.26,"yp":0.02},
{"t":2.9,"x":-0.3,"y":-0.06,"xp":-0.29,"yp":-0.03},
{"t":3,"x":-0.35,"y":-0.16,"xp":-0.31,"yp":-0.07},
{"t":3.1,"x":-0.3,"y":-0.2,"xp":-0.3,"yp":-0.04},
{"t":3.2,"x":-0.22,"y":-0.1,"xp":-0.26,"yp":0},
{"t":3.3,"x":-0.15,"y":0.05,"xp":-0.24,"yp":0.04},
{"t":3.4,"x":-0.1,"y":0.12,"xp":-0.22,"yp":0.06},
{"t":3.5,"x":-0.05,"y":0.2,"xp":-0.2,"yp":0.05},
{"t":3.6,"x":-0.12,"y":0.25,"xp":-0.22,"yp":0.08},
{"t":3.7,"x":-0.28,"y":0.05,"xp":-0.27,"yp":0.01},
{"t":3.8,"x":-0.34,"y":-0.08,"xp":-0.3,"yp":-0.05},
{"t":3.9,"x":-0.3,"y":-0.18,"xp":-0.29,"yp":-0.07},
{"t":4,"x":-0.25,"y":-0.22,"xp":-0.27,"yp":-0.03},
{"t":4.1,"x":-0.18,"y":-0.08,"xp":-0.25,"yp":0.01},
{"t":4.2,"x":-0.12,"y":0.05,"xp":-0.23,"yp":0.05},
{"t":4.3,"x":-0.06,"y":0.15,"xp":-0.2,"yp":0.06},
{"t":4.4,"x":-0.1,"y":0.22,"xp":-0.21,"yp":0.07},
{"t":4.5,"x":-0.25,"y":0.05,"xp":-0.26,"yp":0.02},
{"t":4.6,"x":-0.33,"y":-0.08,"xp":-0.3,"yp":-0.04},
{"t":4.7,"x":-0.3,"y":-0.2,"xp":-0.29,"yp":-0.07},
{"t":4.8,"x":-0.22,"y":-0.18,"xp":-0.26,"yp":-0.03},
{"t":4.9,"x":-0.15,"y":-0.05,"xp":-0.24,"yp":0.01},
{"t":5,"x":-0.1,"y":0.08,"xp":-0.22,"yp":0.04},
{"t":5.1,"x":-0.08,"y":0.15,"xp":-0.2,"yp":0.06},
{"t":5.2,"x":-0.12,"y":0.1,"xp":-0.18,"yp":0.05},
{"t":5.3,"x":-0.05,"y":0.25,"xp":-0.08,"yp":0.07},
{"t":5.4,"x":0.02,"y":0.05,"xp":0,"yp":0.02},
{"t":5.5,"x":0.1,"y":-0.1,"xp":0.05,"yp":-0.04},
{"t":5.6,"x":0.18,"y":-0.22,"xp":0.1,"yp":-0.07},
{"t":5.7,"x":0.3,"y":-0.15,"xp":0.18,"yp":-0.03},
{"t":5.8,"x":0.22,"y":-0.05,"xp":0.22,"yp":0.01},
{"t":5.9,"x":0.35,"y":0.05,"xp":0.26,"yp":0.05},
{"t":6,"x":0.42,"y":0.1,"xp":0.3,"yp":0.06},
{"t":6.1,"x":0.5,"y":0.22,"xp":0.28,"yp":0.07},
{"t":6.2,"x":0.25,"y":0.05,"xp":0.31,"yp":0.02},
{"t":6.3,"x":0.32,"y":-0.1,"xp":0.25,"yp":-0.03},
{"t":6.4,"x":0.15,"y":-0.22,"xp":0.24,"yp":-0.07},
{"t":6.5,"x":0.38,"y":-0.28,"xp":0.23,"yp":-0.05},
{"t":6.6,"x":0.2,"y":-0.15,"xp":0.2,"yp":-0.01},
{"t":6.7,"x":0.3,"y":-0.05,"xp":0.24,"yp":0.03},
{"t":6.8,"x":0.15,"y":0.08,"xp":0.22,"yp":0.06},
{"t":6.9,"x":0.42,"y":0.2,"xp":0.25,"yp":0.07},
{"t":7,"x":0.25,"y":0.05,"xp":0.2,"yp":0.02},
{"t":7.1,"x":0.35,"y":-0.08,"xp":0.24,"yp":-0.03},
{"t":7.2,"x":0.12,"y":-0.2,"xp":0.18,"yp":-0.07},
{"t":7.3,"x":0.4,"y":-0.26,"xp":0.22,"yp":-0.05},
{"t":7.4,"x":0.18,"y":-0.15,"xp":0.19,"yp":-0.01},
{"t":7.5,"x":0.3,"y":-0.05,"xp":0.24,"yp":0.03},
{"t":7.6,"x":0.15,"y":0.1,"xp":0.21,"yp":0.05},
{"t":7.7,"x":0.45,"y":0.18,"xp":0.25,"yp":0.06},
{"t":7.8,"x":0.22,"y":0.3,"xp":0.22,"yp":0.08},
{"t":7.9,"x":0.38,"y":0.05,"xp":0.18,"yp":0.02},
{"t":8,"x":0.12,"y":-0.1,"xp":0.23,"yp":-0.04},
{"t":8.1,"x":0.42,"y":-0.22,"xp":0.19,"yp":-0.07},
{"t":8.2,"x":0.2,"y":-0.28,"xp":0.24,"yp":-0.04},
{"t":8.3,"x":0.32,"y":-0.15,"xp":0.2,"yp":0},
{"t":8.4,"x":0.1,"y":-0.05,"xp":0.25,"yp":0.03},
{"t":8.5,"x":0.4,"y":0.08,"xp":0.21,"yp":0.06},
{"t":8.6,"x":0.18,"y":0.2,"xp":0.24,"yp":0.05},
{"t":8.7,"x":0.45,"y":0,"xp":0.18,"yp":0},
{"t":8.8,"x":0.15,"y":-0.18,"xp":0.22,"yp":-0.1},
{"t":8.9,"x":0.38,"y":-0.3,"xp":0.17,"yp":-0.15},
{"t":9,"x":0.1,"y":-0.25,"xp":0.23,"yp":-0.12},
{"t":9.1,"x":0.42,"y":-0.2,"xp":0.19,"yp":-0.18},
{"t":9.2,"x":0.2,"y":-0.1,"xp":0.24,"yp":-0.1},
{"t":9.3,"x":0.35,"y":0.02,"xp":0.2,"yp":-0.08},
{"t":9.4,"x":0.15,"y":0.12,"xp":0.25,"yp":-0.06},
{"t":9.5,"x":0.45,"y":-0.05,"xp":0.19,"yp":-0.12},
{"t":9.6,"x":0.18,"y":-0.22,"xp":0.23,"yp":-0.2},
{"t":9.7,"x":0.4,"y":-0.32,"xp":0.18,"yp":-0.25},
{"t":9.8,"x":0.12,"y":-0.3,"xp":0.24,"yp":-0.22},
{"t":9.9,"x":0.35,"y":-0.25,"xp":0.2,"yp":-0.17},
{"t":10,"x":0.1,"y":-0.12,"xp":0.25,"yp":-0.12},
{"t":10.1,"x":0.38,"y":0,"xp":0.2,"yp":-0.1},
{"t":10.2,"x":0.15,"y":0.05,"xp":0.23,"yp":-0.08},
{"t":10.3,"x":0.42,"y":0.1,"xp":0.18,"yp":-0.1},
{"t":10.4,"x":0.2,"y":-0.12,"xp":0.24,"yp":-0.18},
{"t":10.5,"x":0.35,"y":-0.25,"xp":0.15,"yp":-0.24},
{"t":10.6,"x":0.08,"y":-0.35,"xp":0.22,"yp":-0.26},
{"t":10.7,"x":0.3,"y":-0.28,"xp":0.17,"yp":-0.2},
{"t":10.8,"x":0.12,"y":-0.15,"xp":0.24,"yp":-0.15},
{"t":10.9,"x":0.4,"y":-0.05,"xp":0.19,"yp":-0.12},
{"t":11,"x":0.15,"y":0.02,"xp":0.23,"yp":-0.1},
{"t":11.1,"x":0.38,"y":0.15,"xp":0.18,"yp":-0.09},
{"t":11.2,"x":0.1,"y":0,"xp":0.24,"yp":-0.15},
{"t":11.3,"x":0.32,"y":-0.2,"xp":0.14,"yp":-0.22},
{"t":11.4,"x":0.06,"y":-0.32,"xp":0.22,"yp":-0.27},
{"t":11.5,"x":0.35,"y":-0.3,"xp":0.18,"yp":-0.22},
{"t":11.6,"x":0.12,"y":-0.18,"xp":0.24,"yp":-0.18},
{"t":11.7,"x":0.28,"y":-0.05,"xp":0.17,"yp":-0.12},
{"t":11.8,"x":0.1,"y":0.05,"xp":0.22,"yp":-0.1},
{"t":11.9,"x":0.38,"y":0.1,"xp":0.19,"yp":-0.06},
{"t":12,"x":0.15,"y":0.2,"xp":0.24,"yp":0},
{"t":12.1,"x":0.35,"y":0,"xp":0.18,"yp":-0.04},
{"t":12.2,"x":0.1,"y":-0.15,"xp":0.23,"yp":-0.06},
{"t":12.3,"x":0.3,"y":-0.2,"xp":0.19,"yp":-0.03},
{"t":12.4,"x":0.12,"y":-0.1,"xp":0.24,"yp":0.02},
{"t":12.5,"x":0.4,"y":0.02,"xp":0.2,"yp":0.05},
{"t":12.6,"x":0.15,"y":0.1,"xp":0.25,"yp":0.04},
{"t":12.7,"x":0.35,"y":0.15,"xp":0.21,"yp":0.06},
{"t":12.8,"x":0.18,"y":0.25,"xp":0.24,"yp":0.07},
{"t":12.9,"x":0.45,"y":0.05,"xp":0.27,"yp":0.02},
{"t":13,"x":0.22,"y":-0.08,"xp":0.29,"yp":-0.03},
{"t":13.1,"x":0.5,"y":-0.15,"xp":0.27,"yp":-0.06},
{"t":13.2,"x":0.2,"y":-0.1,"xp":0.3,"yp":-0.02},
{"t":13.3,"x":0.42,"y":0,"xp":0.28,"yp":0.03},
{"t":13.4,"x":0.25,"y":0.1,"xp":0.31,"yp":0.05},
{"t":13.5,"x":0.55,"y":0.18,"xp":0.29,"yp":0.06},
{"t":13.6,"x":0.22,"y":0.3,"xp":0.33,"yp":0.08},
{"t":13.7,"x":0.48,"y":0.08,"xp":0.3,"yp":0.02},
{"t":13.8,"x":0.25,"y":-0.05,"xp":0.33,"yp":-0.03},
{"t":13.9,"x":0.52,"y":-0.15,"xp":0.31,"yp":-0.06},
{"t":14,"x":0.2,"y":-0.1,"xp":0.34,"yp":-0.02},
{"t":14.1,"x":0.45,"y":0.02,"xp":0.32,"yp":0.03},
{"t":14.2,"x":0.28,"y":0.12,"xp":0.36,"yp":0.05},
{"t":14.3,"x":0.6,"y":0.2,"xp":0.33,"yp":0.06},
{"t":14.4,"x":0.25,"y":0.3,"xp":0.37,"yp":0.08},
{"t":14.5,"x":0.5,"y":0.05,"xp":0.34,"yp":0.02},
{"t":14.6,"x":0.22,"y":-0.05,"xp":0.38,"yp":-0.03},
{"t":14.7,"x":0.55,"y":-0.15,"xp":0.34,"yp":-0.06},
{"t":14.8,"x":0.3,"y":-0.12,"xp":0.38,"yp":-0.02},
{"t":14.9,"x":0.62,"y":0,"xp":0.35,"yp":0.03},
{"t":15,"x":0.28,"y":0.12,"xp":0.39,"yp":0.05},
{"t":15.1,"x":0.5,"y":0.2,"xp":0.36,"yp":0.06},
{"t":15.2,"x":0.25,"y":0.28,"xp":0.4,"yp":0.08},
{"t":15.3,"x":0.68,"y":0.05,"xp":0.37,"yp":0.02},
{"t":15.4,"x":0.3,"y":-0.08,"xp":0.4,"yp":-0.03},
{"t":15.5,"x":0.55,"y":-0.18,"xp":0.36,"yp":-0.06},
{"t":15.6,"x":0.25,"y":-0.12,"xp":0.39,"yp":-0.02},
{"t":15.7,"x":0.6,"y":0,"xp":0.36,"yp":0.03},
{"t":15.8,"x":0.3,"y":0.12,"xp":0.4,"yp":0.05},
{"t":15.9,"x":0.52,"y":0.2,"xp":0.37,"yp":0.06},
{"t":16,"x":0.28,"y":0.3,"xp":0.41,"yp":0.08},
{"t":16.1,"x":0.65,"y":0.05,"xp":0.37,"yp":0.02},
{"t":16.2,"x":0.3,"y":-0.1,"xp":0.39,"yp":-0.03},
{"t":16.3,"x":0.55,"y":-0.18,"xp":0.35,"yp":-0.05},
{"t":16.4,"x":0.2,"y":-0.12,"xp":0.37,"yp":-0.01},
{"t":16.5,"x":0.45,"y":0,"xp":0.33,"yp":0.03},
{"t":16.6,"x":0.15,"y":0.1,"xp":0.3,"yp":0.06},
{"t":16.7,"x":0.35,"y":0.18,"xp":0.26,"yp":0.05},
{"t":16.8,"x":0.1,"y":0.12,"xp":0.2,"yp":0.04},
{"t":16.9,"x":0.3,"y":0.26,"xp":0.16,"yp":0.07},
{"t":17,"x":0,"y":0.08,"xp":0.12,"yp":0.02},
{"t":17.1,"x":0.2,"y":-0.05,"xp":0.06,"yp":-0.03},
{"t":17.2,"x":-0.1,"y":-0.18,"xp":0,"yp":-0.06},
{"t":17.3,"x":0.05,"y":-0.22,"xp":-0.04,"yp":-0.04},
{"t":17.4,"x":-0.15,"y":-0.12,"xp":-0.06,"yp":0},
{"t":17.5,"x":-0.05,"y":0,"xp":-0.08,"yp":0.04},
{"t":17.6,"x":-0.2,"y":0.12,"xp":-0.1,"yp":0.06},
{"t":17.7,"x":-0.02,"y":0.28,"xp":-0.1,"yp":0.07},
{"t":17.8,"x":-0.15,"y":0.1,"xp":-0.14,"yp":0.02},
{"t":17.9,"x":-0.28,"y":-0.05,"xp":-0.16,"yp":-0.03},
{"t":18,"x":-0.32,"y":-0.18,"xp":-0.18,"yp":-0.07},
{"t":18.1,"x":-0.25,"y":-0.22,"xp":-0.17,"yp":-0.04},
{"t":18.2,"x":-0.15,"y":-0.1,"xp":-0.15,"yp":0},
{"t":18.3,"x":-0.1,"y":0.02,"xp":-0.18,"yp":0.04},
{"t":18.4,"x":-0.06,"y":0.12,"xp":-0.19,"yp":0.06},
{"t":18.5,"x":-0.12,"y":0.2,"xp":-0.2,"yp":0.05},
{"t":18.6,"x":-0.05,"y":0.3,"xp":-0.2,"yp":0.08},
{"t":18.7,"x":-0.22,"y":0.1,"xp":-0.25,"yp":0.02},
{"t":18.8,"x":-0.35,"y":-0.05,"xp":-0.28,"yp":-0.03},
{"t":18.9,"x":-0.4,"y":-0.18,"xp":-0.32,"yp":-0.07},
{"t":19,"x":-0.35,"y":-0.22,"xp":-0.3,"yp":-0.05},
{"t":19.1,"x":-0.25,"y":-0.1,"xp":-0.28,"yp":0},
{"t":19.2,"x":-0.15,"y":0.02,"xp":-0.29,"yp":0.04},
{"t":19.3,"x":-0.08,"y":0.12,"xp":-0.28,"yp":0.06},
{"t":19.4,"x":-0.1,"y":0.3,"xp":-0.27,"yp":0.08},
{"t":19.5,"x":-0.3,"y":0.1,"xp":-0.33,"yp":0.02},
{"t":19.6,"x":-0.4,"y":-0.05,"xp":-0.38,"yp":-0.03},
{"t":19.7,"x":-0.44,"y":-0.18,"xp":-0.4,"yp":-0.07},
{"t":19.8,"x":-0.38,"y":-0.22,"xp":-0.39,"yp":-0.05},
{"t":19.9,"x":-0.28,"y":-0.12,"xp":-0.37,"yp":0},
{"t":20,"x":-0.2,"y":0,"xp":-0.35,"yp":0.04},
{"t":20.1,"x":-0.12,"y":0.1,"xp":-0.33,"yp":0.06},
{"t":20.2,"x":-0.08,"y":0.18,"xp":-0.32,"yp":0.05},
{"t":20.3,"x":-0.15,"y":0.3,"xp":-0.31,"yp":0.08},
{"t":20.4,"x":-0.3,"y":0.1,"xp":-0.37,"yp":0.02},
{"t":20.5,"x":-0.4,"y":-0.05,"xp":-0.41,"yp":-0.03},
{"t":20.6,"x":-0.45,"y":-0.18,"xp":-0.42,"yp":-0.07},
{"t":20.7,"x":-0.38,"y":-0.22,"xp":-0.39,"yp":-0.05},
{"t":20.8,"x":-0.3,"y":-0.12,"xp":-0.37,"yp":0},
{"t":20.9,"x":-0.22,"y":0,"xp":-0.34,"yp":0.04},
{"t":21,"x":-0.15,"y":0.1,"xp":-0.32,"yp":0.06},
{"t":21.1,"x":-0.06,"y":0.15,"xp":-0.28,"yp":0.05},
{"t":21.2,"x":-0.12,"y":0.28,"xp":-0.3,"yp":0.08},
{"t":21.3,"x":-0.28,"y":0.1,"xp":-0.36,"yp":0.02},
{"t":21.4,"x":-0.38,"y":-0.05,"xp":-0.4,"yp":-0.03},
{"t":21.5,"x":-0.43,"y":-0.18,"xp":-0.39,"yp":-0.07},
{"t":21.6,"x":-0.38,"y":-0.22,"xp":-0.37,"yp":-0.05},
{"t":21.7,"x":-0.3,"y":-0.12,"xp":-0.35,"yp":0},
{"t":21.8,"x":-0.2,"y":0,"xp":-0.32,"yp":0.04},
{"t":21.9,"x":-0.12,"y":0.1,"xp":-0.29,"yp":0.06},
{"t":22,"x":-0.06,"y":0.18,"xp":-0.27,"yp":0.05},
{"t":22.1,"x":-0.1,"y":0.32,"xp":-0.28,"yp":0.08},
{"t":22.2,"x":-0.28,"y":0.1,"xp":-0.34,"yp":0.02},
{"t":22.3,"x":-0.38,"y":-0.05,"xp":-0.38,"yp":-0.03},
{"t":22.4,"x":-0.42,"y":-0.18,"xp":-0.37,"yp":-0.07},
{"t":22.5,"x":-0.36,"y":-0.22,"xp":-0.35,"yp":-0.05},
{"t":22.6,"x":-0.28,"y":-0.1,"xp":-0.33,"yp":0},
{"t":22.7,"x":-0.18,"y":0.02,"xp":-0.3,"yp":0.04},
{"t":22.8,"x":-0.08,"y":0.15,"xp":-0.26,"yp":0.06},
{"t":22.9,"x":-0.1,"y":0.28,"xp":-0.27,"yp":0.08},
{"t":23,"x":-0.28,"y":0.1,"xp":-0.34,"yp":0.02},
{"t":23.1,"x":-0.38,"y":-0.05,"xp":-0.37,"yp":-0.03},
{"t":23.2,"x":-0.42,"y":-0.18,"xp":-0.38,"yp":-0.07},
{"t":23.3,"x":-0.36,"y":-0.22,"xp":-0.35,"yp":-0.05},
{"t":23.4,"x":-0.28,"y":-0.1,"xp":-0.32,"yp":0},
{"t":23.5,"x":-0.18,"y":0.02,"xp":-0.3,"yp":0.04},
{"t":23.6,"x":-0.06,"y":0.15,"xp":-0.25,"yp":0.06},
{"t":23.7,"x":-0.1,"y":0.27,"xp":-0.26,"yp":0.08},
{"t":23.8,"x":-0.28,"y":0.08,"xp":-0.33,"yp":0.02},
{"t":23.9,"x":-0.4,"y":-0.05,"xp":-0.37,"yp":-0.03},
{"t":24,"x":-0.43,"y":-0.18,"xp":-0.38,"yp":-0.07},
{"t":24.1,"x":-0.36,"y":-0.22,"xp":-0.35,"yp":-0.05},
{"t":24.2,"x":-0.28,"y":-0.1,"xp":-0.32,"yp":0},
{"t":24.3,"x":-0.18,"y":0.02,"xp":-0.3,"yp":0.04},
{"t":24.4,"x":-0.08,"y":0.12,"xp":-0.27,"yp":0.06},
{"t":24.5,"x":-0.12,"y":0.26,"xp":-0.27,"yp":0.08},
{"t":24.6,"x":-0.3,"y":0.1,"xp":-0.34,"yp":0.02},
{"t":24.7,"x":-0.4,"y":-0.05,"xp":-0.38,"yp":-0.03},
{"t":24.8,"x":-0.44,"y":-0.18,"xp":-0.39,"yp":-0.07},
{"t":24.9,"x":-0.36,"y":-0.22,"xp":-0.35,"yp":-0.05},
{"t":25,"x":-0.28,"y":-0.12,"xp":-0.33,"yp":0},
{"t":25.1,"x":-0.18,"y":0,"xp":-0.3,"yp":0.04},
{"t":25.2,"x":-0.1,"y":0.1,"xp":-0.28,"yp":0.06},
{"t":25.3,"x":-0.06,"y":0.18,"xp":-0.26,"yp":0.05},
{"t":25.4,"x":-0.14,"y":0.26,"xp":-0.28,"yp":0.08},
{"t":25.5,"x":-0.3,"y":0.1,"xp":-0.35,"yp":0.02},
{"t":25.6,"x":-0.4,"y":-0.05,"xp":-0.38,"yp":-0.03},
{"t":25.7,"x":-0.43,"y":-0.18,"xp":-0.39,"yp":-0.07},
{"t":25.8,"x":-0.36,"y":-0.22,"xp":-0.36,"yp":-0.05},
{"t":25.9,"x":-0.28,"y":-0.1,"xp":-0.33,"yp":0},
{"t":26,"x":-0.18,"y":0.02,"xp":-0.3,"yp":0.04},
{"t":26.1,"x":-0.08,"y":0.15,"xp":-0.26,"yp":0.06},
{"t":26.2,"x":-0.1,"y":0.22,"xp":-0.27,"yp":0.05},
{"t":26.3,"x":-0.12,"y":0.28,"xp":-0.28,"yp":0.08},
{"t":26.4,"x":-0.3,"y":0.1,"xp":-0.35,"yp":0.02},
{"t":26.5,"x":-0.4,"y":-0.05,"xp":-0.39,"yp":-0.03},
{"t":26.6,"x":-0.45,"y":-0.18,"xp":-0.4,"yp":-0.07},
{"t":26.7,"x":-0.38,"y":-0.22,"xp":-0.36,"yp":-0.05},
{"t":26.8,"x":-0.28,"y":-0.12,"xp":-0.33,"yp":0},
{"t":26.9,"x":-0.2,"y":0,"xp":-0.3,"yp":0.04},
{"t":27,"x":-0.12,"y":0.1,"xp":-0.28,"yp":0.06},
{"t":27.1,"x":-0.06,"y":0.15,"xp":-0.25,"yp":0.05},
{"t":27.2,"x":-0.12,"y":0.22,"xp":-0.27,"yp":0.08},
{"t":27.3,"x":-0.3,"y":0.08,"xp":-0.34,"yp":0.02},
{"t":27.4,"x":-0.4,"y":-0.05,"xp":-0.38,"yp":-0.03},
{"t":27.5,"x":-0.43,"y":-0.18,"xp":-0.39,"yp":-0.07},
{"t":27.6,"x":-0.36,"y":-0.22,"xp":-0.35,"yp":-0.05},
{"t":27.7,"x":-0.28,"y":-0.1,"xp":-0.33,"yp":0},
{"t":27.8,"x":-0.18,"y":0.02,"xp":-0.3,"yp":0.04},
{"t":27.9,"x":-0.08,"y":0.15,"xp":-0.26,"yp":0.06},
{"t":28,"x":-0.1,"y":0.27,"xp":-0.27,"yp":0.08},
{"t":28.1,"x":-0.28,"y":0.1,"xp":-0.34,"yp":0.02},
{"t":28.2,"x":-0.4,"y":-0.05,"xp":-0.38,"yp":-0.03},
{"t":28.3,"x":-0.43,"y":-0.18,"xp":-0.39,"yp":-0.07},
{"t":28.4,"x":-0.36,"y":-0.22,"xp":-0.35,"yp":-0.05},
{"t":28.5,"x":-0.28,"y":-0.1,"xp":-0.33,"yp":0},
{"t":28.6,"x":-0.18,"y":0.02,"xp":-0.3,"yp":0.04},
{"t":28.7,"x":-0.1,"y":0.12,"xp":-0.27,"yp":0.06},
{"t":28.8,"x":-0.05,"y":0.2,"xp":-0.25,"yp":0.05},
{"t":28.9,"x":-0.12,"y":0.3,"xp":-0.27,"yp":0.08},
{"t":29,"x":-0.3,"y":0.1,"xp":-0.34,"yp":0.02},
{"t":29.1,"x":-0.4,"y":-0.05,"xp":-0.38,"yp":-0.03},
{"t":29.2,"x":-0.44,"y":-0.18,"xp":-0.4,"yp":-0.07},
{"t":29.3,"x":-0.36,"y":-0.22,"xp":-0.36,"yp":-0.05},
{"t":29.4,"x":-0.28,"y":-0.1,"xp":-0.33,"yp":0},
{"t":29.5,"x":-0.18,"y":0.02,"xp":-0.3,"yp":0.04},
{"t":29.6,"x":-0.1,"y":0.12,"xp":-0.27,"yp":0.06},
{"t":29.7,"x":-0.06,"y":0.2,"xp":-0.24,"yp":0.05},
{"t":29.8,"x":-0.12,"y":0.3,"xp":-0.26,"yp":0.08},
{"t":29.9,"x":-0.3,"y":0.08,"xp":-0.33,"yp":0.02},
{"t":30,"x":-0.38,"y":-0.05,"xp":-0.36,"yp":-0.03}
],
"walkXD":[
{"t":0,"v":0},{"t":0.8,"v":-0.05},{"t":1,"v":-0.1},{"t":1.2,"v":-0.16},{"t":1.35,"v":-0.23},{"t":1.5,"v":-0.29},{"t":2,"v":-0.28},{"t":2.5,"v":-0.27},{"t":3,"v":-0.26},{"t":3.5,"v":-0.25},{"t":5.15,"v":-0.15},{"t":5.3,"v":-0.05},{"t":5.4,"v":0.02},{"t":5.55,"v":0.1},{"t":5.7,"v":0.2},{"t":5.85,"v":0.27},{"t":6,"v":0.29},{"t":6.3,"v":0.26},{"t":6.5,"v":0.24},{"t":6.7,"v":0.22},{"t":7,"v":0.21},{"t":12.85,"v":0.25},{"t":13,"v":0.28},{"t":13.4,"v":0.3},{"t":13.8,"v":0.32},{"t":14.2,"v":0.34},{"t":14.8,"v":0.36},{"t":15.3,"v":0.37},{"t":16.5,"v":0.35},{"t":16.6,"v":0.3},{"t":16.75,"v":0.2},{"t":16.9,"v":0.15},{"t":17.05,"v":0.06},{"t":17.15,"v":-0.01},{"t":17.3,"v":-0.05},{"t":17.5,"v":-0.09},{"t":17.7,"v":-0.12},{"t":18,"v":-0.15},{"t":18.3,"v":-0.18},{"t":18.6,"v":-0.22},{"t":18.9,"v":-0.27},{"t":19.2,"v":-0.31},{"t":19.5,"v":-0.35},{"t":19.8,"v":-0.37},{"t":20.6,"v":-0.36},{"t":21,"v":-0.35},{"t":21.5,"v":-0.33},{"t":22,"v":-0.32},{"t":22.7,"v":-0.31},{"t":30,"v":-0.31}
],
"walkYD":[
{"t":0,"v":0.17},{"t":0.55,"v":0.13},{"t":0.75,"v":0.08},{"t":0.9,"v":0.03},{"t":1.05,"v":0},{"t":1.2,"v":-0.01},{"t":5.5,"v":0},{"t":6,"v":0.01},{"t":8.6,"v":0},{"t":8.7,"v":-0.04},{"t":8.9,"v":-0.08},{"t":9.1,"v":-0.12},{"t":9.3,"v":-0.15},{"t":9.7,"v":-0.17},{"t":11.85,"v":-0.15},{"t":12,"v":-0.08},{"t":12.15,"v":-0.02},{"t":12.3,"v":0},{"t":13,"v":0.01},{"t":16.3,"v":0.02},{"t":17,"v":0},{"t":30,"v":-0.01}
]
},
"vconcat":[
{
"width":1130,"height":263,
"title":{"text":"Trot Trajectory","frame":"group","offset":-3,"font":"DejaVu Serif","fontSize":29.5,"fontWeight":"normal","color":"#000000"},
"layer":[
{"data":{"name":"trot"},"mark":"line","encoding":{"x":{"field":"t","type":"quantitative","scale":{"domain":[0,30],"nice":false},"axis":{"values":[0,5,10,15,20,25,30],"title":null,"tickSize":-11,"tickColor":"#262626","domainColor":"#262626","labelFont":"Liberation Sans","labelFontSize":26,"labelColor":"#262626","labelPadding":24,"labelFlush":false,"grid":false}},"y":{"field":"x","type":"quantitative","scale":{"domain":[-1,1],"nice":false},"axis":{"title":"Velocity (m/s)","values":[-1,-0.5,0,0.5,1],"tickSize":-11,"tickColor":"#262626","domainColor":"#262626","labelFont":"Liberation Sans","labelFontSize":26,"labelColor":"#262626","labelPadding":24,"labelFlush":false,"grid":false,"titleFont":"DejaVu Serif","titleFontSize":26,"titleFontWeight":"normal","titleColor":"#000000","titlePadding":6,"labelExpr":"datum.value < 0 ? '-' + format(-datum.value, '') : format(datum.value, '')"}},"color":{"datum":"x","type":"nominal","scale":{"domain":["x","y","xp","yp","xd","yd"],"range":["#DD6E0C","#087A4E","#1F45B6","#DC4F4F","#F9C86A","#3DD6D1"]},"legend":{"title":null,"labelExpr":"datum.label == 'x' ? 'ẋ' : datum.label == 'xp' ? 'ẋᵖˡᵃⁿⁿᵉʳ\u2800' : datum.label == 'xd' ? 'ẋᵈᵉˢ' : datum.label == 'y' ? 'ẏ' : datum.label == 'yp' ? 'ẏᵖˡᵃⁿⁿᵉʳ\u2800' : 'ẏᵈᵉˢ'"}}}},
{"data":{"name":"trot"},"mark":"line","encoding":{"x":{"field":"t","type":"quantitative"},"y":{"field":"y","type":"quantitative"},"color":{"datum":"y","type":"nominal"}}},
{"data":{"name":"trot"},"mark":"line","encoding":{"x":{"field":"t","type":"quantitative"},"y":{"field":"xp","type":"quantitative"},"color":{"datum":"xp","type":"nominal"}}},
{"data":{"name":"trot"},"mark":"line","encoding":{"x":{"field":"t","type":"quantitative"},"y":{"field":"yp","type":"quantitative"},"color":{"datum":"yp","type":"nominal"}}},
{"data":{"name":"trotXD"},"mark":{"type":"line","interpolate":"step-after"},"encoding":{"x":{"field":"t","type":"quantitative"},"y":{"field":"v","type":"quantitative"},"color":{"datum":"xd","type":"nominal"}}},
{"data":{"name":"trotYD"},"mark":{"type":"line","interpolate":"step-after"},"encoding":{"x":{"field":"t","type":"quantitative"},"y":{"field":"v","type":"quantitative"},"color":{"datum":"yd","type":"nominal"}}},
{"data":{"values":[{}]},"mark":{"type":"text","font":"Liberation Sans","fontWeight":"bold","fontSize":30,"color":"#000000","align":"center","baseline":"middle"},"encoding":{"x":{"datum":28.74,"type":"quantitative"},"y":{"datum":0.765,"type":"quantitative"},"text":{"value":"(a)"}}}
]
},
{
"width":1130,"height":264,
"title":{"text":"Walk Trajectory","frame":"group","offset":-3,"font":"DejaVu Serif","fontSize":29.5,"fontWeight":"normal","color":"#000000"},
"layer":[
{"data":{"name":"walk"},"mark":{"type":"line","color":"#DD6E0C"},"encoding":{"x":{"field":"t","type":"quantitative","scale":{"domain":[0,30],"nice":false},"axis":{"values":[0,5,10,15,20,25,30],"title":"Time (sec)","tickSize":-11,"tickColor":"#262626","domainColor":"#262626","labelFont":"Liberation Sans","labelFontSize":26,"labelColor":"#262626","labelPadding":24,"labelFlush":false,"grid":false,"titleFont":"DejaVu Serif","titleFontSize":26,"titleFontWeight":"normal","titleColor":"#000000","titlePadding":8}},"y":{"field":"x","type":"quantitative","scale":{"domain":[-0.5,0.666],"nice":false},"axis":{"title":"Velocity (m/s)","values":[-0.5,0,0.5],"tickSize":-11,"tickColor":"#262626","domainColor":"#262626","labelFont":"Liberation Sans","labelFontSize":26,"labelColor":"#262626","labelPadding":24,"labelFlush":false,"grid":false,"titleFont":"DejaVu Serif","titleFontSize":26,"titleFontWeight":"normal","titleColor":"#000000","titlePadding":6,"labelExpr":"datum.value < 0 ? '-' + format(-datum.value, '') : format(datum.value, '')"}}}},
{"data":{"name":"walk"},"mark":{"type":"line","color":"#087A4E"},"encoding":{"x":{"field":"t","type":"quantitative"},"y":{"field":"y","type":"quantitative"}}},
{"data":{"name":"walk"},"mark":{"type":"line","color":"#1F45B6"},"encoding":{"x":{"field":"t","type":"quantitative"},"y":{"field":"xp","type":"quantitative"}}},
{"data":{"name":"walk"},"mark":{"type":"line","color":"#DC4F4F"},"encoding":{"x":{"field":"t","type":"quantitative"},"y":{"field":"yp","type":"quantitative"}}},
{"data":{"name":"walkXD"},"mark":{"type":"line","interpolate":"step-after","color":"#F9C86A"},"encoding":{"x":{"field":"t","type":"quantitative"},"y":{"field":"v","type":"quantitative"}}},
{"data":{"name":"walkYD"},"mark":{"type":"line","interpolate":"step-after","color":"#3DD6D1"},"encoding":{"x":{"field":"t","type":"quantitative"},"y":{"field":"v","type":"quantitative"}}},
{"data":{"values":[{}]},"mark":{"type":"text","font":"Liberation Sans","fontWeight":"bold","fontSize":30,"color":"#000000","align":"center","baseline":"middle"},"encoding":{"x":{"datum":28.77,"type":"quantitative"},"y":{"datum":0.44,"type":"quantitative"},"text":{"value":"(b)"}}}
]
}
],
"resolve":{"scale":{"color":"independent"},"legend":{"color":"independent"}}
}
